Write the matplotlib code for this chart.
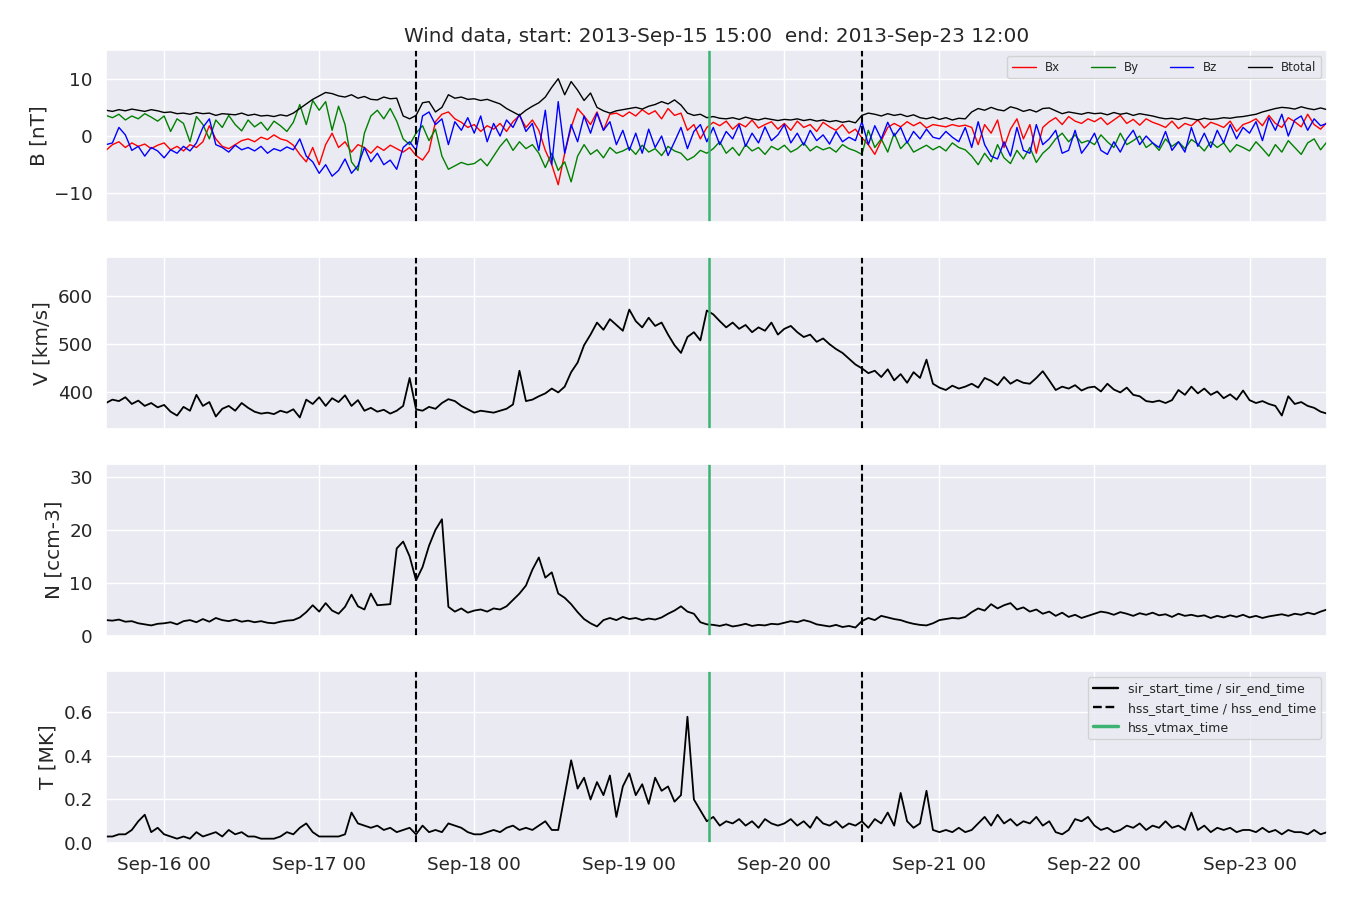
import numpy as np
import pandas as pd
import matplotlib
matplotlib.use('Agg')
import matplotlib.pyplot as plt
import matplotlib.dates as mdates
from matplotlib.lines import Line2D
import seaborn as sns

# ---------------- data (hourly readings, 2013-09-15 15:00 .. 2013-09-23 12:00) ----------------
start_time = '2013-09-15 15:00'
end_time = '2013-09-23 12:00'

bx = [-2.5, -1.5, -1.0, -2.0, -1.2, -1.8, -1.4, -2.2, -1.6,
      -1.2, -2.4, -1.8, -2.6, -1.5, -2.0, -1.0, 1.8, -0.5, -1.8, -2.2, -1.5, -0.8, -0.5, -1.0, -0.2, -0.6, 0.2, -0.5, -0.8, -1.6, -3.2, -4.5, -2.0,
      -5.0, -1.5, 0.5, -2.0, -1.0, -2.8, -1.5, -2.0, -3.0, -1.8, -2.5, -1.6, -2.2, -2.8, -2.0, -3.4, -4.2, -2.6, 2.5, 3.8, 4.2, 3.0, 2.4, 1.5,
      2.0, 0.8, 1.8, 1.2, 2.2, 0.8, 2.5, 3.6, 1.5, 2.8, 1.0, -2.5, -5.0, -8.5, -3.0, 1.5, 4.8, 3.5, 2.0, 4.2, 1.0, 3.8, 4.0, 3.4,
      4.2, 3.5, 4.6, 3.8, 4.4, 3.0, 4.8, 3.6, 4.0, 1.0, 2.0, -0.5, 1.5, 2.4, 1.8, 2.6, 1.2, 2.2, 1.6, 2.8, 1.4, 2.0, 2.5, 1.2,
      2.2, 1.0, 2.6, 1.5, 2.0, 0.8, 2.4, 1.6, 1.0, 2.0, 0.5, 1.2, -0.3, -1.5, -3.2, -0.8, 1.5, 2.2, 1.6, 2.5, 1.8, 2.4, 1.4, 2.0,
      1.8, 1.6, 2.0, 1.7, 1.9, 1.5, -1.5, 2.0, 0.5, 2.8, -2.0, 1.2, 3.0, -0.5, 2.0, -3.0, 1.5, 2.5, 3.2, 2.0, 3.4, 2.6, 2.2, 3.0,
      2.5, 3.2, 2.0, 2.8, 3.6, 2.2, 2.9, 1.9, 3.0, 2.4, 2.0, 1.5, 2.6, 1.3, 2.2, 1.8, 2.8, 1.4, 2.4, 2.0, 1.5, 2.6, 0.8, 2.0,
      2.4, 3.0, 1.8, 3.6, 2.2, 1.5, 3.2, 2.5, 1.6, 3.8, 2.0, 1.2, 2.4]

by = [3.6, 3.2, 3.8, 2.8, 3.5, 3.0, 3.9, 3.3, 2.6,
      3.5, 0.8, 3.0, 2.2, -1.0, 3.4, 2.0, -0.5, 2.8, 1.5, 3.6, 2.0, 0.9, 2.8, 1.6, 2.4, 1.0, 2.6, 1.8, 0.8, 2.4, 5.5, 2.0, 6.2,
      4.5, 6.0, 1.0, 5.2, 2.0, -4.5, -6.0, 0.5, 3.5, 4.5, 3.0, 4.8, 2.6, -0.5, -1.5, 0.5, 1.8, -0.8, 1.2, -3.5, -5.8, -5.2, -4.6, -5.0,
      -4.8, -4.0, -5.2, -3.5, -1.8, -0.5, -2.5, -1.0, -2.2, -1.5, -3.0, -5.5, -3.0, -6.0, -4.5, -8.0, -3.5, -1.5, -3.2, -2.4, -3.8, -2.0, -3.0, -2.6,
      -2.0, -3.2, -1.6, -2.8, -2.2, -3.4, -1.8, -2.6, -3.0, -4.2, -3.6, -2.5, -3.0, -2.2, -1.0, -3.0, -2.0, -3.4, -1.5, -2.6, -2.0, -3.2, -1.8, -2.4,
      -1.6, -2.8, -2.2, -1.2, -2.6, -1.8, -2.4, -2.0, -2.8, -1.5, -2.2, -2.6, -3.2, 1.0, -2.0, -0.5, -2.8, 0.5, -2.2, -1.0, -2.8, -2.2, -1.6, -2.4,
      -1.8, -2.6, -1.2, -2.0, -2.4, -3.5, -5.0, -3.0, -4.5, -1.5, -3.8, -4.8, -2.5, -4.0, -2.0, -4.6, -3.0, -2.0, -0.5, 0.5, -1.0, 0.2, -1.2, -0.8,
      -1.5, 0.2, -1.0, -2.0, 0.5, -1.5, -0.8, 0.0, -2.0, -1.2, -2.5, -0.5, -1.8, -1.0, -2.2, -0.6, -1.4, -2.6, -1.0, -2.0, -1.2, -2.8, -1.5, -2.0,
      -2.6, -1.0, -2.2, -3.5, -1.5, -2.8, -0.8, -2.0, -3.2, -1.2, -0.5, -2.4, -1.0]

bz = [-1.5, -1.2, 1.5, 0.2, -2.5, -1.8, -3.5, -2.0, -2.6,
      -3.8, -2.4, -3.0, -1.8, -2.6, -1.2, 1.5, 3.0, -1.5, -2.0, -2.8, -1.6, -2.4, -2.0, -2.6, -1.8, -3.0, -2.2, -2.6, -1.9, -2.4, -0.5, -3.5, -4.5,
      -6.5, -5.0, -7.0, -6.0, -4.0, -6.5, -5.2, -2.0, -4.5, -3.0, -5.0, -4.2, -5.8, -2.0, -1.0, -2.5, 3.5, 4.2, 2.0, 3.0, -1.5, 2.5, 1.0, 3.2,
      0.5, 3.5, -1.0, 2.2, 0.0, 2.8, 1.5, 3.8, 0.8, 2.2, -2.5, 4.5, -5.0, 6.0, -3.0, 2.0, -1.0, 3.5, 0.5, 4.0, 1.0, 2.5, -1.5, 1.0,
      -2.5, 0.5, -3.0, 1.2, -2.0, 0.0, -3.4, -1.0, 1.5, -2.2, 0.8, 2.0, -1.0, 1.5, -1.5, 0.8, -0.5, 2.0, -1.8, 0.5, -1.2, 1.6, -0.8, 0.2,
      2.0, -1.2, 0.5, -1.6, 1.0, -0.8, 0.2, -1.4, 0.8, -1.0, -0.2, -0.8, 2.5, -1.5, 1.8, -0.5, 2.4, 0.0, 1.5, -1.2, 0.8, -0.5, 1.2, -0.2,
      -0.5, 0.8, -0.2, -1.0, 1.5, -2.0, 2.5, -1.5, -3.5, -4.0, -1.0, -3.5, 1.5, -2.5, -3.0, 2.0, -1.5, -0.5, 1.0, -3.0, -2.5, 1.0, -3.0, -1.5,
      0.5, -2.5, -3.2, -1.0, -2.8, -0.5, 1.0, -1.5, 0.0, -1.2, -2.0, 0.8, -2.5, -1.0, -2.8, 1.5, -1.8, 0.5, -2.0, 1.0, -1.2, 2.0, -0.5, 1.5,
      0.5, 2.5, -0.8, 3.2, 1.0, 3.8, 0.0, 2.8, 3.5, 1.0, 3.0, 1.8, 2.2]

btot = [4.5, 4.3, 4.6, 4.4, 4.7, 4.5, 4.3, 4.6, 4.4,
        4.1, 4.2, 3.9, 4.0, 3.8, 4.1, 3.9, 4.0, 3.6, 3.9, 3.8, 3.7, 4.0, 3.6, 3.8, 3.5, 3.6, 3.4, 3.7, 3.5, 4.0, 4.8, 5.6, 6.4,
        7.0, 7.6, 7.4, 7.0, 6.8, 7.2, 6.6, 6.9, 6.4, 6.3, 6.8, 6.5, 6.6, 3.5, 3.0, 3.6, 5.8, 6.0, 4.2, 5.0, 7.2, 6.6, 6.8, 6.4,
        6.5, 6.2, 6.4, 6.0, 5.6, 4.8, 4.2, 3.6, 4.5, 5.2, 5.8, 6.8, 8.5, 10.0, 7.2, 9.5, 8.0, 6.2, 7.5, 5.0, 4.4, 4.0, 4.4, 4.6,
        4.8, 5.0, 4.7, 5.2, 5.5, 6.0, 5.6, 6.3, 5.4, 4.0, 3.6, 3.8, 3.2, 3.4, 3.1, 3.0, 3.2, 2.9, 3.3, 3.0, 2.8, 3.1, 2.9, 2.7,
        2.9, 2.8, 3.0, 2.7, 2.9, 2.6, 2.8, 2.5, 2.7, 2.4, 2.6, 2.3, 3.6, 4.0, 3.8, 3.5, 3.9, 3.6, 3.8, 3.4, 3.7, 3.2, 3.0, 3.3,
        2.9, 3.2, 2.8, 3.1, 3.0, 4.2, 4.8, 4.5, 5.0, 4.6, 4.4, 5.1, 4.8, 4.3, 4.6, 4.2, 4.8, 4.9, 4.4, 3.9, 4.2, 4.0, 3.8, 4.1,
        3.9, 4.0, 3.7, 4.1, 3.8, 4.0, 3.6, 3.9, 3.7, 3.5, 3.2, 3.0, 3.1, 2.9, 3.2, 3.0, 2.8, 3.1, 2.9, 3.0, 3.2, 3.1, 3.3, 3.4,
        3.6, 3.8, 4.2, 4.5, 4.8, 5.0, 4.9, 4.7, 5.1, 4.8, 4.6, 4.9, 4.6]

vel = [378, 385, 382, 390, 376, 383, 372, 378, 369,
       374, 360, 352, 370, 362, 395, 372, 380, 350, 366, 372, 362, 378, 368, 360, 356, 358, 355, 362, 358, 365, 348, 385, 376,
       390, 372, 388, 380, 394, 372, 384, 362, 368, 360, 364, 356, 362, 372, 430, 365, 362, 370, 366, 378, 386, 382, 372, 365,
       358, 362, 360, 358, 362, 366, 375, 445, 382, 385, 392, 398, 408, 400, 412, 442, 462, 498, 520, 545, 530, 552, 540, 528,
       572, 548, 535, 555, 538, 545, 520, 498, 482, 515, 525, 508, 570, 562, 548, 535, 545, 532, 540, 525, 535, 528, 545, 520,
       532, 538, 525, 515, 520, 505, 512, 500, 490, 482, 470, 458, 450, 440, 445, 432, 448, 425, 438, 420, 442, 430, 468, 418,
       410, 405, 414, 408, 412, 418, 410, 430, 424, 415, 432, 418, 426, 420, 418, 430, 444, 425, 405, 412, 408, 415, 404, 410,
       412, 402, 418, 406, 400, 410, 395, 392, 382, 380, 383, 378, 384, 405, 395, 412, 398, 408, 395, 402, 388, 396, 385, 404,
       384, 378, 382, 376, 372, 352, 392, 376, 380, 372, 368, 360, 356]

dens = [3.0, 2.9, 3.1, 2.7, 2.8, 2.4, 2.2, 2.0, 2.3,
        2.4, 2.6, 2.2, 2.8, 3.0, 2.6, 3.2, 2.7, 3.4, 3.0, 2.8, 3.1, 2.7, 2.9, 2.6, 2.8, 2.5, 2.4, 2.7, 2.9, 3.0, 3.5, 4.5, 5.8,
        4.6, 6.2, 4.8, 4.2, 5.5, 7.8, 5.6, 5.0, 8.0, 5.8, 5.9, 6.0, 16.5, 17.8, 15.0, 10.5, 13.0, 17.0, 20.0, 22.0, 5.5, 4.6, 5.2, 4.4,
        4.8, 5.0, 4.6, 5.2, 5.0, 5.6, 6.8, 8.0, 9.5, 12.5, 14.8, 11.0, 12.0, 8.0, 7.2, 6.0, 4.5, 3.2, 2.4, 1.8, 3.0, 3.4, 3.0, 3.6,
        3.2, 3.4, 3.0, 3.3, 3.1, 3.5, 4.2, 4.8, 5.6, 4.6, 4.2, 2.6, 2.2, 2.1, 1.9, 2.2, 1.8, 2.0, 2.3, 1.9, 2.1, 2.0, 2.3, 2.2,
        2.5, 2.8, 2.6, 3.0, 2.7, 2.2, 2.0, 1.8, 2.1, 1.7, 1.9, 1.6, 2.8, 3.4, 3.0, 3.8, 3.5, 3.2, 3.0, 2.6, 2.3, 2.1, 2.0, 2.4,
        3.0, 3.2, 3.4, 3.3, 3.6, 4.5, 5.2, 4.8, 6.0, 5.2, 5.8, 6.2, 5.0, 5.4, 4.6, 5.0, 4.2, 4.6, 3.8, 4.4, 3.6, 4.0, 3.4, 3.8,
        4.2, 4.6, 4.4, 4.0, 4.5, 4.2, 3.8, 4.3, 4.0, 4.4, 3.9, 4.1, 3.6, 4.2, 3.8, 4.0, 3.7, 3.9, 3.4, 3.8, 3.5, 3.9, 3.6, 4.0,
        3.5, 3.8, 3.4, 3.7, 3.9, 4.1, 3.8, 4.2, 4.0, 4.4, 4.1, 4.6, 5.0]

temp = [0.03, 0.03, 0.04, 0.04, 0.06, 0.10, 0.13, 0.05, 0.07,
        0.04, 0.03, 0.02, 0.03, 0.02, 0.05, 0.03, 0.04, 0.05, 0.03, 0.06, 0.04, 0.05, 0.03, 0.03, 0.02, 0.02, 0.02, 0.03, 0.05, 0.04, 0.07, 0.09, 0.05,
        0.03, 0.03, 0.03, 0.03, 0.04, 0.14, 0.09, 0.08, 0.07, 0.08, 0.06, 0.07, 0.05, 0.06, 0.07, 0.04, 0.08, 0.05, 0.06, 0.05, 0.09, 0.08, 0.07, 0.05,
        0.04, 0.04, 0.05, 0.06, 0.05, 0.07, 0.08, 0.06, 0.07, 0.06, 0.08, 0.10, 0.06, 0.06, 0.22, 0.38, 0.25, 0.30, 0.20, 0.28, 0.22, 0.31, 0.12, 0.26,
        0.32, 0.22, 0.27, 0.18, 0.30, 0.24, 0.26, 0.19, 0.22, 0.58, 0.20, 0.15, 0.10, 0.12, 0.08, 0.10, 0.09, 0.11, 0.08, 0.10, 0.07, 0.11, 0.09, 0.08,
        0.09, 0.11, 0.08, 0.10, 0.07, 0.12, 0.09, 0.08, 0.10, 0.07, 0.09, 0.08, 0.10, 0.07, 0.11, 0.09, 0.14, 0.08, 0.23, 0.10, 0.07, 0.09, 0.24, 0.06,
        0.05, 0.06, 0.05, 0.07, 0.05, 0.06, 0.09, 0.12, 0.08, 0.13, 0.09, 0.11, 0.08, 0.10, 0.09, 0.12, 0.08, 0.10, 0.05, 0.04, 0.06, 0.11, 0.10, 0.12,
        0.08, 0.06, 0.07, 0.05, 0.06, 0.08, 0.07, 0.09, 0.06, 0.08, 0.07, 0.10, 0.07, 0.08, 0.06, 0.14, 0.06, 0.08, 0.05, 0.07, 0.06, 0.07, 0.05, 0.06,
        0.06, 0.05, 0.07, 0.05, 0.06, 0.04, 0.06, 0.05, 0.05, 0.04, 0.06, 0.04, 0.05]

hss_start_time = '2013-09-17 15:00'
hss_end_time = '2013-09-20 12:00'
hss_vtmax_time = '2013-09-19 12:20'

# ---------------- plotting ----------------
sns.set_theme(style='darkgrid', context='notebook', font_scale=1.2)
plt.rcParams['font.family'] = ['DejaVu Sans']

times = pd.date_range(start_time, end_time, freq='h')

fig, axes = plt.subplots(4, 1, figsize=(13.5, 9), dpi=100, sharex=True)
fig.subplots_adjust(left=0.0785, right=0.983, top=0.9444, bottom=0.0633, hspace=0.2035)

ax1, ax2, ax3, ax4 = axes
ax1.plot(times, bx, color='red', lw=1.0, label='Bx')
ax1.plot(times, by, color='green', lw=1.0, label='By')
ax1.plot(times, bz, color='blue', lw=1.0, label='Bz')
ax1.plot(times, btot, color='black', lw=1.0, label='Btotal')
ax1.set_ylim(-15, 15)
ax1.set_yticks([-10, 0, 10])
ax1.set_ylabel('B [nT]')
ax1.legend(loc='upper right', ncol=4, fontsize=8.5, columnspacing=2.6)
ax1.set_title('Wind data, start: 2013-Sep-15 15:00  end: 2013-Sep-23 12:00')

ax2.plot(times, vel, color='black', lw=1.3)
ax2.set_ylim(324, 681)
ax2.set_yticks([400, 500, 600])
ax2.set_ylabel('V [km/s]')

ax3.plot(times, dens, color='black', lw=1.3)
ax3.set_ylim(0, 32.4)
ax3.set_yticks([0, 10, 20, 30])
ax3.set_ylabel('N [ccm-3]')

ax4.plot(times, temp, color='black', lw=1.3)
ax4.set_ylim(0, 0.79)
ax4.set_yticks([0.0, 0.2, 0.4, 0.6])
ax4.set_ylabel('T [MK]')

for ax in axes:
    ax.axvline(pd.Timestamp(hss_start_time), color='black', ls='--', lw=1.5)
    ax.axvline(pd.Timestamp(hss_end_time), color='black', ls='--', lw=1.5)
    ax.axvline(pd.Timestamp(hss_vtmax_time), color='mediumseagreen', lw=1.8)

ax4.xaxis.set_major_locator(mdates.DayLocator())
ax4.xaxis.set_major_formatter(mdates.DateFormatter('%b-%d %H'))
ax4.set_xlim(times[0], times[-1])

handles = [Line2D([], [], color='black', lw=1.7),
           Line2D([], [], color='black', lw=1.7, ls='--'),
           Line2D([], [], color='mediumseagreen', lw=2.5)]
ax4.legend(handles, ['sir_start_time / sir_end_time', 'hss_start_time / hss_end_time', 'hss_vtmax_time'],
           loc='upper right', fontsize=9)

fig.savefig('out.png', dpi=100)
